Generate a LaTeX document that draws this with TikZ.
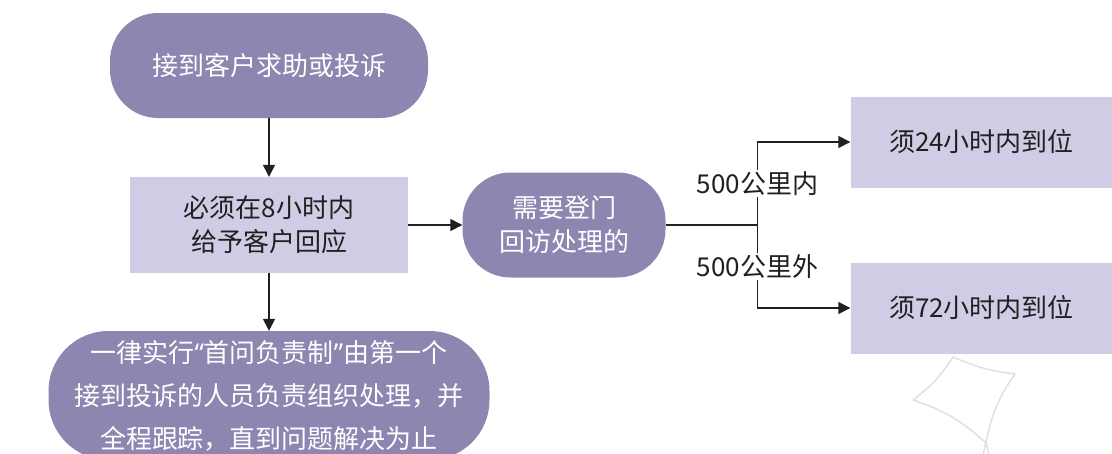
\documentclass[tikz,border=0pt]{standalone}
\usepackage{fontspec}
\setmainfont{Noto Sans CJK SC}
\newfontfamily\quotefont{Noto Sans}
\usetikzlibrary{positioning, arrows.meta}
\definecolor{darkpurple}{HTML}{8E85B0}
\definecolor{lightpurple}{HTML}{D1CCE6}
\definecolor{textdark}{HTML}{231F20}
\definecolor{kitegray}{HTML}{E0E0E0}
\tikzstyle{startstop} = [rectangle, rounded corners=48pt, minimum height=105pt, text centered, align=center, fill=darkpurple, text=white, font=\fontsize{26}{34}\selectfont]
\tikzstyle{process} = [rectangle, minimum height=96pt, text centered, align=center, fill=lightpurple, text=textdark, font=\fontsize{26}{34}\selectfont]
\tikzstyle{dist} = [fill=white, inner sep=2pt, text=textdark, font=\fontsize{26}{30}\selectfont]
\tikzstyle{line} = [line width=1.4pt, draw=textdark]
\tikzstyle{arrow} = [line width=1.4pt, draw=textdark, -{Triangle[length=12pt,width=12pt]}]

\begin{document}
\begin{tikzpicture}[node distance=159.5pt]
\useasboundingbox (0,0) rectangle (1112pt,-453pt);
\clip (0,0) rectangle (1112pt,-453pt);

\node (start) [startstop, minimum width=318pt] at (269pt,-65.5pt) {接到客户求助或投诉};
\node (pro1) [process, minimum width=278pt, below of=start] {必须在8小时内\\给予客户回应};
\node (dec1) [startstop, minimum width=203pt, node distance=295pt, right of=pro1] {需要登门\\回访处理的};
\node (stop) [startstop, minimum width=441pt, minimum height=129pt, rounded corners=60pt, node distance=170.5pt, below of=pro1, font=\fontsize{26}{43}\selectfont] {一律实行{\quotefont“}首问负责制{\quotefont”}由第一个\\接到投诉的人员负责组织处理，并\\全程跟踪，直到问题解决为止};

\node (pro2) [process, minimum width=262pt, minimum height=91pt, node distance=417.5pt, right of=dec1, yshift=83pt] {须24小时内到位};
\node (pro3) [process, minimum width=262pt, minimum height=91pt, node distance=417.5pt, right of=dec1, yshift=-83pt] {须72小时内到位};

\coordinate (split) at ([xshift=193.5pt]dec1.center);

\draw [arrow] (start) -- (pro1);
\draw [arrow] (pro1) -- (dec1);
\draw [arrow] (pro1) -- (stop);
\draw [line] (dec1) -- (split);
\draw [arrow] (split) |- node[dist, pos=0.25] {500公里内} (pro2);
\draw [arrow] (split) |- node[dist, pos=0.25] {500公里外} (pro3);

% faint kite in the corner
\draw [kitegray, line width=1.5pt, line join=round] (953pt,-357pt) to[bend right=8] (1015pt,-374pt) to[bend right=12] (986pt,-443pt) to[bend right=12] (913pt,-400pt) to[bend right=10] cycle;
\draw [kitegray, line width=1.5pt] (986pt,-441pt) -- (982pt,-460pt);
\draw [kitegray, line width=1.5pt] (986pt,-441pt) -- (990pt,-460pt);
\end{tikzpicture}
\end{document}
